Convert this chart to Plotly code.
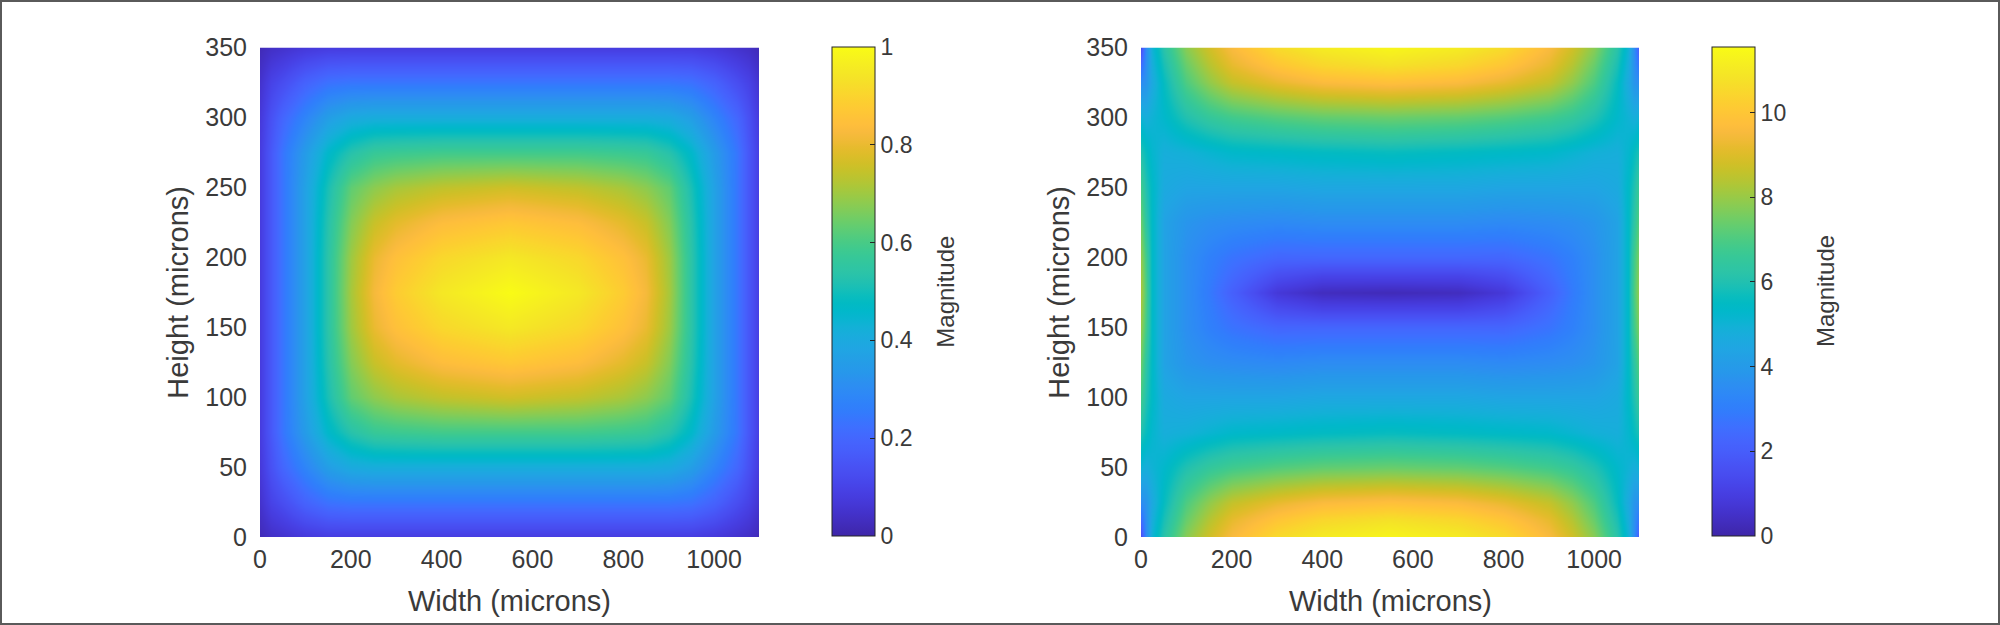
import plotly.graph_objects as go

# ---------------- data ----------------
left_x = [0, 25, 50, 100, 150, 200, 250, 300, 400, 550, 700, 800, 850, 900, 950, 1000, 1050, 1075, 1100]
left_y = [0, 25, 50, 75, 100, 125, 150, 175, 200, 225, 250, 275, 300, 325, 350]
left_z = [
    [0.02, 0.04, 0.05, 0.07, 0.08, 0.08, 0.08, 0.08, 0.08, 0.08, 0.08, 0.08, 0.08, 0.08, 0.08, 0.07, 0.05, 0.04, 0.02],
    [0.05, 0.10, 0.13, 0.19, 0.23, 0.24, 0.24, 0.24, 0.24, 0.24, 0.24, 0.24, 0.24, 0.24, 0.23, 0.19, 0.13, 0.10, 0.05],
    [0.07, 0.14, 0.20, 0.28, 0.36, 0.40, 0.41, 0.41, 0.41, 0.41, 0.41, 0.41, 0.41, 0.40, 0.36, 0.28, 0.20, 0.14, 0.07],
    [0.08, 0.16, 0.24, 0.35, 0.46, 0.53, 0.57, 0.58, 0.59, 0.59, 0.59, 0.58, 0.57, 0.53, 0.46, 0.35, 0.24, 0.16, 0.08],
    [0.08, 0.16, 0.24, 0.37, 0.51, 0.63, 0.68, 0.71, 0.74, 0.76, 0.74, 0.71, 0.68, 0.63, 0.51, 0.37, 0.24, 0.16, 0.08],
    [0.08, 0.16, 0.24, 0.37, 0.53, 0.67, 0.75, 0.79, 0.84, 0.87, 0.84, 0.79, 0.75, 0.67, 0.53, 0.37, 0.24, 0.16, 0.08],
    [0.08, 0.16, 0.24, 0.37, 0.54, 0.70, 0.80, 0.85, 0.91, 0.95, 0.91, 0.85, 0.80, 0.70, 0.54, 0.37, 0.24, 0.16, 0.08],
    [0.08, 0.16, 0.24, 0.37, 0.54, 0.71, 0.82, 0.88, 0.95, 1.00, 0.95, 0.88, 0.82, 0.71, 0.54, 0.37, 0.24, 0.16, 0.08],
    [0.08, 0.16, 0.24, 0.37, 0.54, 0.70, 0.80, 0.85, 0.91, 0.95, 0.91, 0.85, 0.80, 0.70, 0.54, 0.37, 0.24, 0.16, 0.08],
    [0.08, 0.16, 0.24, 0.37, 0.53, 0.67, 0.75, 0.79, 0.84, 0.87, 0.84, 0.79, 0.75, 0.67, 0.53, 0.37, 0.24, 0.16, 0.08],
    [0.08, 0.16, 0.24, 0.37, 0.51, 0.63, 0.68, 0.71, 0.74, 0.76, 0.74, 0.71, 0.68, 0.63, 0.51, 0.37, 0.24, 0.16, 0.08],
    [0.08, 0.16, 0.24, 0.35, 0.46, 0.53, 0.57, 0.58, 0.59, 0.59, 0.59, 0.58, 0.57, 0.53, 0.46, 0.35, 0.24, 0.16, 0.08],
    [0.07, 0.14, 0.20, 0.28, 0.36, 0.40, 0.41, 0.41, 0.41, 0.41, 0.41, 0.41, 0.41, 0.40, 0.36, 0.28, 0.20, 0.14, 0.07],
    [0.05, 0.10, 0.13, 0.19, 0.23, 0.24, 0.24, 0.24, 0.24, 0.24, 0.24, 0.24, 0.24, 0.24, 0.23, 0.19, 0.13, 0.10, 0.05],
    [0.02, 0.04, 0.05, 0.07, 0.08, 0.08, 0.08, 0.08, 0.08, 0.08, 0.08, 0.08, 0.08, 0.08, 0.08, 0.07, 0.05, 0.04, 0.02],
]

right_x = [0, 12, 25, 50, 100, 150, 200, 300, 400, 550, 700, 800, 900, 950, 1000, 1050, 1075, 1088, 1100]
right_y = [0, 12, 25, 50, 75, 100, 125, 150, 163, 175, 187, 200, 225, 250, 275, 300, 325, 338, 350]
right_z = [
    [1.5, 3.5, 5.0, 6.2, 7.8, 8.8, 9.6, 10.6, 11.1, 11.4, 11.1, 10.6, 9.6, 8.8, 7.8, 6.2, 5.0, 3.5, 1.5],
    [2.5, 3.6, 4.8, 5.9, 7.4, 8.4, 9.2, 10.0, 10.5, 10.8, 10.5, 10.0, 9.2, 8.4, 7.4, 5.9, 4.8, 3.6, 2.5],
    [3.5, 3.8, 4.6, 5.6, 7.0, 7.9, 8.6, 9.2, 9.6, 9.8, 9.6, 9.2, 8.6, 7.9, 7.0, 5.6, 4.6, 3.8, 3.5],
    [5.0, 4.8, 5.0, 5.3, 6.0, 6.5, 6.8, 7.1, 7.3, 7.4, 7.3, 7.1, 6.8, 6.5, 6.0, 5.3, 5.0, 4.8, 5.0],
    [6.0, 5.6, 5.2, 4.8, 4.9, 5.1, 5.3, 5.4, 5.5, 5.6, 5.5, 5.4, 5.3, 5.1, 4.9, 4.8, 5.2, 5.6, 6.0],
    [6.8, 6.0, 5.4, 4.6, 4.4, 4.4, 4.4, 4.4, 4.5, 4.5, 4.5, 4.4, 4.4, 4.4, 4.4, 4.6, 5.4, 6.0, 6.8],
    [7.4, 6.3, 5.4, 4.3, 3.8, 3.6, 3.5, 3.4, 3.5, 3.5, 3.5, 3.4, 3.5, 3.6, 3.8, 4.3, 5.4, 6.3, 7.4],
    [7.9, 6.8, 5.4, 4.3, 3.6, 3.1, 2.7, 2.3, 2.3, 2.3, 2.3, 2.3, 2.7, 3.1, 3.6, 4.3, 5.4, 6.8, 7.9],
    [8.1, 6.9, 5.4, 4.3, 3.6, 3.0, 2.4, 1.5, 1.2, 1.2, 1.2, 1.5, 2.4, 3.0, 3.6, 4.3, 5.4, 6.9, 8.1],
    [8.2, 7.0, 5.4, 4.3, 3.6, 2.9, 2.1, 0.8, 0.35, 0.25, 0.35, 0.8, 2.1, 2.9, 3.6, 4.3, 5.4, 7.0, 8.2],
    [8.1, 6.9, 5.4, 4.3, 3.6, 3.0, 2.4, 1.5, 1.2, 1.2, 1.2, 1.5, 2.4, 3.0, 3.6, 4.3, 5.4, 6.9, 8.1],
    [7.9, 6.8, 5.4, 4.3, 3.6, 3.1, 2.7, 2.3, 2.3, 2.3, 2.3, 2.3, 2.7, 3.1, 3.6, 4.3, 5.4, 6.8, 7.9],
    [7.4, 6.3, 5.4, 4.3, 3.8, 3.6, 3.5, 3.4, 3.5, 3.5, 3.5, 3.4, 3.5, 3.6, 3.8, 4.3, 5.4, 6.3, 7.4],
    [6.8, 6.0, 5.4, 4.6, 4.4, 4.4, 4.4, 4.4, 4.5, 4.5, 4.5, 4.4, 4.4, 4.4, 4.4, 4.6, 5.4, 6.0, 6.8],
    [6.0, 5.6, 5.2, 4.8, 4.9, 5.1, 5.3, 5.4, 5.5, 5.6, 5.5, 5.4, 5.3, 5.1, 4.9, 4.8, 5.2, 5.6, 6.0],
    [5.0, 4.8, 5.0, 5.3, 6.0, 6.5, 6.8, 7.1, 7.3, 7.4, 7.3, 7.1, 6.8, 6.5, 6.0, 5.3, 5.0, 4.8, 5.0],
    [3.5, 3.8, 4.6, 5.6, 7.0, 7.9, 8.6, 9.2, 9.6, 9.8, 9.6, 9.2, 8.6, 7.9, 7.0, 5.6, 4.6, 3.8, 3.5],
    [2.5, 3.6, 4.8, 5.9, 7.4, 8.4, 9.2, 10.0, 10.5, 10.8, 10.5, 10.0, 9.2, 8.4, 7.4, 5.9, 4.8, 3.6, 2.5],
    [1.5, 3.5, 5.0, 6.2, 7.8, 8.8, 9.6, 10.6, 11.1, 11.4, 11.1, 10.6, 9.6, 8.8, 7.8, 6.2, 5.0, 3.5, 1.5],
]

x_ticks = [0, 200, 400, 600, 800, 1000]
y_ticks = [0, 50, 100, 150, 200, 250, 300, 350]
left_cb_ticks = [0, 0.2, 0.4, 0.6, 0.8, 1]
right_cb_ticks = [0, 2, 4, 6, 8, 10]
left_range = [0, 1]
right_range = [0, 11.55]
x_label = "Width (microns)"
y_label = "Height (microns)"
cb_label = "Magnitude"

# ---------------- style ----------------
parula_rgb = [
    (0.2422, 0.1504, 0.6603), (0.2504, 0.1650, 0.7076), (0.2578, 0.1818, 0.7511), (0.2647, 0.1978, 0.7952),
    (0.2706, 0.2147, 0.8364), (0.2751, 0.2342, 0.8710), (0.2783, 0.2559, 0.8991), (0.2803, 0.2782, 0.9221),
    (0.2813, 0.3006, 0.9414), (0.2810, 0.3228, 0.9579), (0.2795, 0.3447, 0.9717), (0.2760, 0.3667, 0.9829),
    (0.2699, 0.3892, 0.9906), (0.2602, 0.4123, 0.9952), (0.2440, 0.4358, 0.9988), (0.2206, 0.4603, 0.9973),
    (0.1963, 0.4847, 0.9892), (0.1834, 0.5074, 0.9798), (0.1786, 0.5289, 0.9682), (0.1764, 0.5499, 0.9520),
    (0.1687, 0.5703, 0.9359), (0.1540, 0.5902, 0.9218), (0.1460, 0.6091, 0.9079), (0.1380, 0.6276, 0.8973),
    (0.1248, 0.6459, 0.8883), (0.1113, 0.6635, 0.8763), (0.0952, 0.6798, 0.8598), (0.0689, 0.6948, 0.8394),
    (0.0297, 0.7082, 0.8163), (0.0036, 0.7203, 0.7917), (0.0067, 0.7312, 0.7660), (0.0433, 0.7411, 0.7394),
    (0.0964, 0.7500, 0.7120), (0.1408, 0.7584, 0.6842), (0.1717, 0.7670, 0.6554), (0.1938, 0.7758, 0.6251),
    (0.2161, 0.7843, 0.5923), (0.2470, 0.7918, 0.5567), (0.2906, 0.7973, 0.5188), (0.3406, 0.8008, 0.4789),
    (0.3909, 0.8029, 0.4354), (0.4456, 0.8024, 0.3909), (0.5044, 0.7993, 0.3480), (0.5616, 0.7942, 0.3045),
    (0.6174, 0.7876, 0.2612), (0.6720, 0.7793, 0.2227), (0.7242, 0.7698, 0.1910), (0.7738, 0.7598, 0.1646),
    (0.8203, 0.7498, 0.1535), (0.8634, 0.7406, 0.1596), (0.9035, 0.7330, 0.1774), (0.9393, 0.7288, 0.2100),
    (0.9728, 0.7298, 0.2394), (0.9956, 0.7434, 0.2371), (0.9970, 0.7659, 0.2199), (0.9952, 0.7893, 0.2028),
    (0.9892, 0.8136, 0.1885), (0.9786, 0.8386, 0.1766), (0.9676, 0.8639, 0.1643), (0.9610, 0.8890, 0.1537),
    (0.9597, 0.9135, 0.1423), (0.9628, 0.9373, 0.1265), (0.9691, 0.9606, 0.1064), (0.9769, 0.9839, 0.0805),
]
n = len(parula_rgb)
parula = [[i / (n - 1), "rgb(%d,%d,%d)" % tuple(round(c * 255) for c in rgb)] for i, rgb in enumerate(parula_rgb)]

W, H = 2000, 625
FONT = "Liberation Sans, Arial, Helvetica, sans-serif"
TXT = "#3a3a3a"

def fx(p):
    return p / W

def fy(p):
    return 1 - p / H

plot_top, plot_bot = 47.5, 537.0
panels = [
    dict(x0=260.0, x1=759.5, cb=831.7),
    dict(x0=1141.0, x1=1639.5, cb=1712.0),
]

def colorbar(xpix, ticks):
    return dict(
        x=fx(xpix), xanchor="left", xref="paper", xpad=0,
        y=fy(536), yanchor="bottom", yref="paper", ypad=0,
        len=(536 - 47) / H, lenmode="fraction",
        thickness=43, thicknessmode="pixels",
        outlinewidth=1, outlinecolor="#262626",
        tickvals=ticks, ticks="inside", ticklen=5, tickcolor="#262626", tickwidth=1,
        tickfont=dict(family=FONT, size=23, color=TXT),
    )

fig = go.Figure()
fig.add_trace(go.Heatmap(
    x=left_x, y=left_y, z=left_z, zsmooth="best", colorscale=parula,
    zmin=left_range[0], zmax=left_range[1], colorbar=colorbar(panels[0]["cb"], left_cb_ticks),
    xaxis="x", yaxis="y",
))
fig.add_trace(go.Heatmap(
    x=right_x, y=right_y, z=right_z, zsmooth="best", colorscale=parula,
    zmin=right_range[0], zmax=right_range[1], colorbar=colorbar(panels[1]["cb"], right_cb_ticks),
    xaxis="x2", yaxis="y2",
))

axis_common = dict(showgrid=False, zeroline=False, showline=False, ticks="",
                   tickfont=dict(family=FONT, size=25, color=TXT), automargin=False)

annotations = []
for i, p in enumerate(panels):
    sx = "" if i == 0 else "2"
    fig.layout["xaxis" + sx] = dict(
        axis_common, domain=[fx(p["x0"]), fx(p["x1"])], range=[0, 1100], tickvals=x_ticks,
        anchor="y" + sx, ticklabelstandoff=5,
    )
    fig.layout["yaxis" + sx] = dict(
        axis_common, domain=[fy(plot_bot), fy(plot_top)], range=[0, 350], tickvals=y_ticks,
        anchor="x" + sx, ticklabelstandoff=12,
    )
    annotations.append(dict(
        text=x_label, x=fx((p["x0"] + p["x1"]) / 2), y=fy(601), xref="paper", yref="paper",
        xanchor="center", yanchor="middle", showarrow=False,
        font=dict(family=FONT, size=29, color=TXT),
    ))
    annotations.append(dict(
        text=y_label, x=fx(p["x0"] - 81.5), y=fy((plot_top + plot_bot) / 2), xref="paper", yref="paper",
        xanchor="center", yanchor="middle", showarrow=False, textangle=-90,
        font=dict(family=FONT, size=29, color=TXT),
    ))
    annotations.append(dict(
        text=cb_label, x=fx(p["cb"] + 113.5), y=fy((47 + 536) / 2), xref="paper", yref="paper",
        xanchor="center", yanchor="middle", showarrow=False, textangle=-90,
        font=dict(family=FONT, size=24, color=TXT),
    ))

fig.update_layout(
    width=W, height=H,
    margin=dict(l=0, r=0, t=0, b=0, pad=0),
    paper_bgcolor="white", plot_bgcolor="white",
    annotations=annotations,
    shapes=[dict(type="rect", xref="paper", yref="paper",
                 x0=fx(1), x1=fx(W - 1), y0=fy(H - 1), y1=fy(1),
                 line=dict(color="#5a5a5a", width=2), fillcolor="rgba(0,0,0,0)", layer="above")],
    showlegend=False,
)

fig.write_html("out.html")
